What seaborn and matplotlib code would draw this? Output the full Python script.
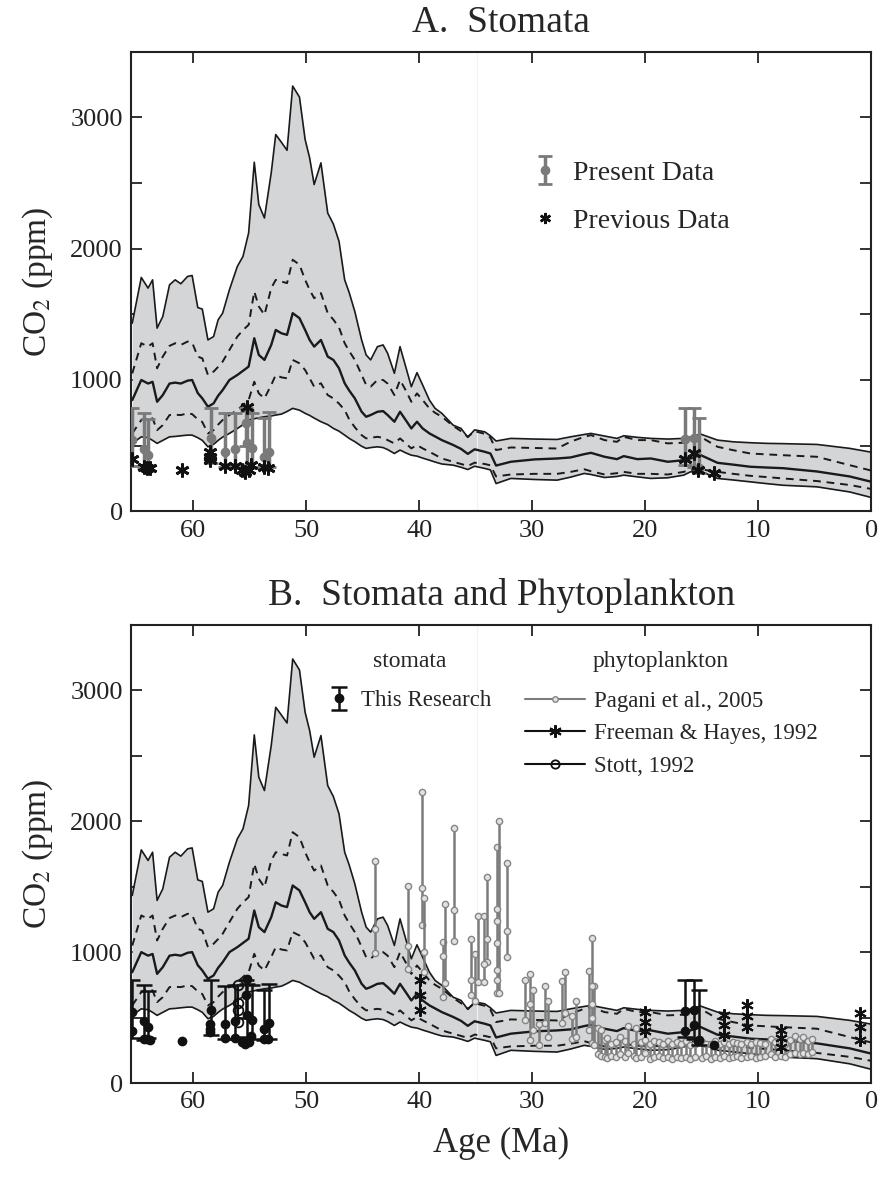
import numpy as np
import matplotlib
matplotlib.use("Agg")
import matplotlib.pyplot as plt
from matplotlib.ticker import MultipleLocator
from matplotlib.lines import Line2D
import seaborn as sns

# envelope of the model (age in Ma, CO2 in ppm)
age = [65.4, 64.6, 64.0, 63.6, 63.2, 62.7, 62.1, 61.6, 61.1, 60.5, 60.1, 59.6, 59.2, 58.7, 58.2,
       57.8, 57.4, 56.8, 56.1, 55.6, 55.1, 54.6, 54.2, 53.7, 53.1, 52.7, 52.2, 51.7, 51.2, 50.6,
       50.1, 49.7, 49.3, 48.7, 48.1, 47.6, 47.1, 46.6, 46.2, 45.7, 45.1, 44.7, 44.3, 43.7, 43.2,
       42.8, 42.2, 41.7, 41.2, 40.7, 40.2, 39.7, 39.1, 38.6, 38.0, 37.0, 36.3, 35.7, 35.1, 34.2,
       33.7, 33.2, 31.9, 29.8, 27.8, 26.6, 25.4, 24.8, 23.6, 22.5, 21.9, 20.7, 19.5, 18.0, 16.6,
       16.0, 15.1, 13.6, 12.2, 10.7, 9.2, 7.8, 4.8, 1.9, 0.0]
upper = [1433, 1781, 1700, 1763, 1395, 1483, 1725, 1763, 1733, 1789, 1796, 1552, 1540, 1305, 1331,
         1458, 1509, 1687, 1865, 1941, 2120, 2659, 2336, 2234, 2578, 2870, 2811, 2750, 3239, 3155,
         2832, 2692, 2489, 2654, 2272, 2188, 2056, 1763, 1666, 1521, 1305, 1191, 1153, 1254, 1267,
         1204, 1051, 1254, 1102, 949, 1056, 962, 847, 784, 746, 656, 631, 563, 620, 605,
         575, 535, 555, 550, 547, 567, 585, 593, 573, 555, 575, 563, 555, 550, 555,
         565, 588, 542, 529, 522, 517, 515, 509, 479, 450]
q75 = [1050, 1280, 1254, 1280, 1089, 1178, 1260, 1280, 1267, 1293, 1285, 1178, 1165, 1038, 1064,
       1100, 1140, 1229, 1331, 1380, 1420, 1674, 1560, 1496, 1700, 1763, 1750, 1738, 1916, 1878,
       1763, 1687, 1623, 1662, 1509, 1460, 1400, 1280, 1220, 1153, 1040, 962, 949, 1000, 1000,
       973, 885, 1000, 922, 834, 898, 847, 784, 750, 720, 650, 610, 567, 610, 590,
       560, 466, 486, 482, 478, 530, 567, 580, 542, 529, 567, 542, 542, 517, 522,
       535, 567, 491, 465, 440, 433, 427, 415, 351, 310]
median = [847, 1000, 973, 986, 834, 885, 973, 980, 973, 995, 1000, 900, 860, 796, 822,
          880, 923, 1000, 1038, 1070, 1102, 1318, 1191, 1153, 1267, 1381, 1356, 1344, 1509, 1471,
          1381, 1305, 1254, 1305, 1178, 1153, 1089, 975, 920, 860, 758, 720, 733, 758, 763,
          733, 682, 758, 695, 631, 682, 631, 593, 570, 542, 505, 475, 437, 472, 453,
          440, 348, 377, 395, 402, 410, 435, 445, 415, 397, 420, 397, 402, 377, 389,
          402, 428, 369, 355, 339, 333, 328, 303, 265, 225]
q25 = [593, 695, 720, 707, 618, 656, 733, 735, 733, 746, 740, 700, 680, 593, 618,
       660, 695, 733, 771, 810, 847, 987, 898, 860, 962, 1038, 1020, 1013, 1153, 1127,
       1076, 1013, 949, 975, 885, 860, 820, 771, 700, 640, 580, 555, 560, 567, 560,
       542, 517, 555, 517, 479, 504, 479, 453, 430, 402, 377, 360, 345, 370, 360,
       350, 265, 280, 285, 285, 300, 320, 305, 280, 290, 300, 285, 285, 280, 300,
       315, 320, 300, 285, 270, 260, 250, 230, 200, 170]
lower = [517, 567, 560, 540, 517, 540, 567, 570, 575, 580, 580, 560, 540, 491, 510,
         540, 565, 593, 630, 660, 695, 705, 712, 720, 726, 733, 740, 760, 784, 770,
         746, 730, 710, 682, 660, 631, 610, 580, 555, 530, 495, 479, 485, 491, 485,
         470, 440, 466, 445, 427, 420, 405, 389, 375, 360, 351, 335, 318, 343, 326,
         315, 211, 250, 242, 237, 260, 288, 280, 257, 265, 275, 262, 250, 255, 275,
         300, 305, 250, 238, 224, 210, 198, 186, 147, 105]

# stomata, this research (value and error range)
present_age = [65.4, 64.4, 64.0, 58.4, 57.2, 56.3, 55.3, 55.2, 54.8, 53.7, 53.3, 16.5, 15.7, 15.2]
present_co2 = [542, 471, 430, 560, 450, 475, 675, 520, 480, 410, 455, 547, 560, 330]
present_lo = [343, 326, 345, 368, 335, 340, 500, 350, 340, 330, 340, 351, 340, 290]
present_hi = [784, 750, 705, 785, 745, 750, 785, 760, 750, 710, 755, 785, 790, 708]

# stomata, previous data
previous_age = [65.4, 64.4, 64.1, 63.8, 61.0, 58.5, 58.5, 58.5, 57.2, 56.3, 55.7, 55.4, 55.1,
                55.2, 54.9, 53.7, 53.4, 16.5, 15.7, 15.3, 13.9]
previous_co2 = [395, 338, 333, 326, 318, 453, 415, 389, 343, 343, 313, 300, 313,
                796, 356, 338, 333, 395, 440, 318, 288]

# phytoplankton: Pagani et al., 2005 (ranges)
pagani_age = [43.9, 41.0, 39.8, 39.6, 37.9, 37.7, 36.9, 35.4, 35.1, 34.8, 34.3, 34.0, 33.1, 32.9,
              32.2, 30.6, 30.2, 29.9, 29.4, 28.9, 28.6, 27.4, 27.1, 26.5, 26.1, 25.0, 24.7, 24.5,
              24.2, 23.9, 23.6, 23.4, 23.0, 22.6, 22.2, 21.8, 21.5, 21.0, 20.8, 20.4, 20.0, 19.6,
              19.2, 18.8, 18.4, 18.0, 17.6, 17.2, 16.8, 16.4, 16.0, 15.6, 15.0, 14.6, 14.2, 13.8,
              13.4, 13.0, 12.6, 12.2, 11.9, 11.5, 11.0, 10.6, 10.2, 9.8, 9.4, 8.9, 8.5, 8.0,
              7.6, 7.2, 6.7, 6.3, 6.0, 5.6, 5.2]
pagani_lo = [990, 872, 1205, 847, 658, 765, 1085, 670, 624, 770, 770, 923, 688, 688,
             965, 483, 330, 407, 292, 458, 355, 458, 535, 340, 355, 407, 305, 290,
             220, 210, 200, 190, 210, 200, 220, 200, 230, 210, 190, 200, 230, 180,
             200, 210, 190, 200, 180, 200, 190, 200, 180, 200, 190, 210, 180, 200,
             190, 210, 190, 200, 210, 190, 200, 210, 190, 200, 210, 220, 200, 210,
             200, 220, 230, 220, 230, 220, 240]
pagani_hi = [1698, 1502, 2223, 1417, 1077, 1371, 1947, 1103, 982, 1276, 1276, 1571, 1801, 1998,
             1681, 790, 834, 714, 453, 744, 624, 778, 849, 514, 629, 854, 1110, 744,
             420, 407, 330, 345, 300, 310, 355, 320, 433, 300, 422, 310, 330, 300,
             320, 310, 300, 320, 300, 310, 300, 320, 290, 300, 310, 300, 300, 320,
             300, 310, 300, 315, 309, 300, 310, 300, 310, 309, 300, 335, 310, 320,
             300, 330, 360, 340, 355, 320, 335]
pagani_mid_age = [43.9, 41.0, 39.8, 39.6, 37.9, 36.9, 35.4, 34.3, 34.0, 33.1, 33.1, 33.1, 33.1,
                  33.1, 32.2, 30.2, 24.7, 24.7, 24.7]
pagani_mid_co2 = [1174, 1046, 1487, 1000, 970, 1323, 790, 906, 1097, 1328, 1238, 1072, 867,
                  790, 1161, 600, 744, 600, 500]

# phytoplankton: Freeman & Hayes, 1992
freeman_age = [39.9, 20.0, 13.0, 11.0, 8.0, 1.0]
freeman_hi = [790, 540, 522, 598, 407, 535]
freeman_mid = [675, 465, 445, 510, 345, 430]
freeman_lo = [560, 400, 368, 430, 279, 330]

# phytoplankton: Stott, 1992
stott_age = [56.0, 56.0, 56.0, 56.0]
stott_co2 = [752, 614, 560, 468]

sns.set_theme(style="ticks")
plt.rcParams["font.family"] = ["Liberation Serif", "DejaVu Serif"]
plt.rcParams["mathtext.fontset"] = "stix"

GRAY_FILL = "#d4d5d7"
ASTER = (6, 2, 0)


def envelope(ax):
    ax.fill_between(age, lower, upper, color=GRAY_FILL, lw=0, zorder=1)
    ax.axvline(34.9, color="#f2f2f2", lw=0.8, zorder=1.5)
    sns.lineplot(x=age, y=upper, ax=ax, color="k", lw=1.2, estimator=None, sort=False, zorder=3)
    sns.lineplot(x=age, y=lower, ax=ax, color="k", lw=1.2, estimator=None, sort=False, zorder=3)
    sns.lineplot(x=age, y=median, ax=ax, color="k", lw=1.7, estimator=None, sort=False, zorder=3)
    for q in (q75, q25):
        sns.lineplot(x=age, y=q, ax=ax, color="k", lw=1.4, estimator=None, sort=False,
                     zorder=3).lines[-1].set_dashes((4, 3))


def style(ax):
    ax.set_xlim(65.5, 0)
    ax.set_ylim(0, 3500)
    ax.xaxis.set_major_locator(MultipleLocator(10))
    ax.yaxis.set_major_locator(MultipleLocator(1000))
    ax.yaxis.set_minor_locator(MultipleLocator(500))
    ax.tick_params(which="both", direction="in", top=True, right=True, length=8,
                   width=1.3, labelsize=19, pad=6, colors="#222222")
    for s in ax.spines.values():
        s.set_linewidth(1.5)
        s.set_color("#222222")
    ax.set_ylabel("CO$_2$ (ppm)", fontsize=24)
    ax.yaxis.set_label_coords(-0.103, 0.5)
    ax.set_xlabel("")


fig = plt.figure(figsize=(8.8, 11.78), dpi=100)
axA = fig.add_axes([0.149, 0.566, 0.841, 0.390])
axB = fig.add_axes([0.149, 0.0806, 0.841, 0.389])

# ---- panel A
envelope(axA)
yerr = [np.array(present_co2) - np.array(present_lo), np.array(present_hi) - np.array(present_co2)]
ebA = axA.errorbar(present_age, present_co2, yerr=yerr, fmt="o", color="#7a7a7a", ms=6,
                   elinewidth=2.5, capsize=5, capthick=2, zorder=5)
axA.plot(previous_age, previous_co2, ls="none", marker=ASTER, ms=10, mew=2, color="#111111", zorder=6)
prevA = Line2D([], [], ls="none", marker=ASTER, ms=8, mew=1.8, color="#111111")
axA.legend([ebA, prevA], ["Present Data", "Previous Data"], loc="center left",
           bbox_to_anchor=(0.511, 0.684), frameon=False, fontsize=20, handlelength=0.8,
           handletextpad=0.6, labelspacing=0.8)
style(axA)
axA.set_title("A.  Stomata", fontsize=27, pad=14)

# ---- panel B
envelope(axB)
for a, lo, hi in zip(pagani_age, pagani_lo, pagani_hi):
    axB.plot([a, a], [lo, hi], color="#7c7c7c", lw=1.8, marker="o", ms=4.5,
             mfc="#e2e2e2", mec="#858585", mew=1.0, zorder=4)
axB.plot(pagani_mid_age, pagani_mid_co2, ls="none", marker="o", ms=4.5,
         mfc="#e2e2e2", mec="#858585", mew=1.0, zorder=4)

for a, lo, mid, hi in zip(freeman_age, freeman_lo, freeman_mid, freeman_hi):
    axB.plot([a, a, a], [lo, mid, hi], color="#111111", lw=1.5, marker=ASTER, ms=9, mew=1.5, zorder=6)

axB.plot(stott_age, stott_co2, color="#111111", lw=1.5, marker="o", ms=7, mfc="none",
         mec="#111111", mew=1.3, zorder=6)

ebB = axB.errorbar(present_age, present_co2, yerr=yerr, fmt="o", color="#111111", ms=6,
                   elinewidth=1.8, capsize=6, capthick=1.8, zorder=7)
axB.plot(previous_age, previous_co2, ls="none", marker="o", ms=6, color="#111111", zorder=7)

axB.text(0.377, 0.919, "stomata", transform=axB.transAxes, ha="center", va="center", fontsize=17)
axB.text(0.716, 0.919, "phytoplankton", transform=axB.transAxes, ha="center", va="center", fontsize=17)
leg1 = axB.legend([ebB], ["This Research"], loc="center left",
                  bbox_to_anchor=(0.240, 0.834), frameon=False, fontsize=16.5,
                  handlelength=0.8, handletextpad=0.6)
axB.add_artist(leg1)
h_pag = Line2D([], [], color="#7c7c7c", lw=1.5, marker="o", ms=4, mfc="#e2e2e2", mec="#858585")
h_fre = Line2D([], [], color="#111111", lw=1.5, marker=ASTER, ms=9, mew=1.5)
h_sto = Line2D([], [], color="#111111", lw=1.5, marker="o", ms=6, mfc="none", mew=1.3)
axB.legend([h_pag, h_fre, h_sto], ["Pagani et al., 2005", "Freeman & Hayes, 1992", "Stott, 1992"],
           loc="center left", bbox_to_anchor=(0.505, 0.762), frameon=False,
           fontsize=16.5, handlelength=2.6, handletextpad=0.4, labelspacing=0.5)
style(axB)
axB.set_title("B.  Stomata and Phytoplankton", fontsize=27, pad=14)
axB.set_xlabel("Age (Ma)", fontsize=25, labelpad=10)

fig.savefig("out.png", dpi=100, facecolor="white")
